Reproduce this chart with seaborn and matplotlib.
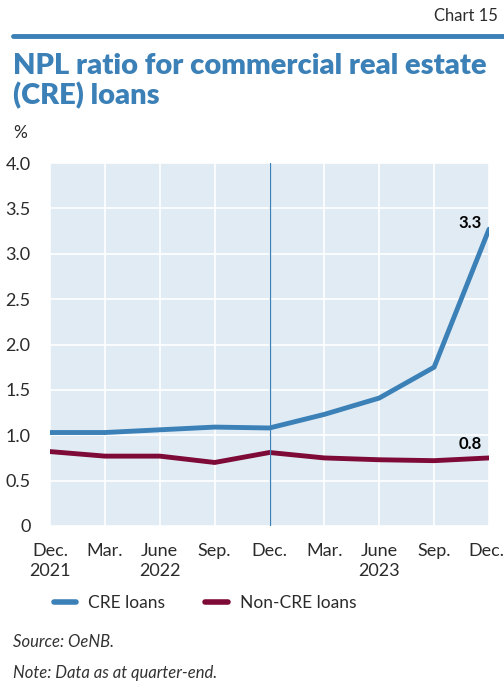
import matplotlib
matplotlib.use('Agg')
import matplotlib.pyplot as plt
import matplotlib.transforms as mtransforms
import seaborn as sns
import pandas as pd

# quarter-end labels
quarters = ['Dec.\n2021', 'Mar.', 'June\n2022', 'Sep.', 'Dec.', 'Mar.', 'June\n2023', 'Sep.', 'Dec.']
cre_loans = [1.03, 1.03, 1.06, 1.09, 1.08, 1.23, 1.41, 1.75, 3.27]
non_cre_loans = [0.82, 0.77, 0.77, 0.70, 0.81, 0.75, 0.73, 0.72, 0.75]
series_names = ['CRE loans', 'Non-CRE loans']
y_ticks = [0, 0.5, 1.0, 1.5, 2.0, 2.5, 3.0, 3.5, 4.0]
y_tick_labels = ['0', '0.5', '1.0', '1.5', '2.0', '2.5', '3.0', '3.5', '4.0']

blue = '#3b80b6'
maroon = '#7d0a37'
txt = '#2b2b2b'

df = pd.DataFrame({
    'pos': list(range(len(quarters))) * 2,
    'value': cre_loans + non_cre_loans,
    'series': [series_names[0]] * len(quarters) + [series_names[1]] * len(quarters),
})

sns.set_theme(style='darkgrid', rc={'axes.facecolor': '#e1ebf4', 'grid.color': 'white'})
plt.rcParams['font.family'] = ['Lato', 'DejaVu Sans']

fig = plt.figure(figsize=(5.04, 6.88), dpi=100)
ax = fig.add_axes([50 / 504, 1 - 526 / 688, 439 / 504, 363 / 688])

sns.lineplot(data=df, x='pos', y='value', hue='series', palette=[blue, maroon],
             linewidth=3.5, ax=ax, legend=False)

ax.axvline(4, color=blue, linewidth=0.9)

ax.set_xlim(0, len(quarters) - 1)
ax.set_ylim(0, 4.0)
ax.set_xticks(range(len(quarters)))
ax.set_xticklabels(quarters, fontsize=13, color=txt, linespacing=1.3)
ax.set_yticks(y_ticks)
ax.set_yticklabels(y_tick_labels, fontsize=13, color=txt)
ax.tick_params(axis='x', pad=12, length=0)
ax.tick_params(axis='y', pad=14, length=0)
ax.set_xlabel('')
ax.set_ylabel('')
ax.grid(True, color='white', linewidth=1.2)
for s in ax.spines.values():
    s.set_visible(False)

# nudge the last tick label so it stays inside the figure
last = ax.get_xticklabels()[-1]
last.set_transform(last.get_transform() + mtransforms.ScaledTranslation(-3 / 100, 0, fig.dpi_scale_trans))

ax.text(7.65, cre_loans[-1] + 0.07, f'{cre_loans[-1]:.1f}', ha='center', va='center',
        fontsize=12, fontweight='bold', color='black')
ax.text(7.65, non_cre_loans[-1] + 0.15, f'{non_cre_loans[-1]:.1f}', ha='center', va='center',
        fontsize=12, fontweight='bold', color='black')

# header
fig.text(498 / 504, 1 - 16 / 688, 'Chart 15', ha='right', va='center', fontsize=12, color=txt)
fig.add_artist(plt.Line2D([13 / 504, 1.0], [1 - 36 / 688, 1 - 36 / 688], color=blue, linewidth=3.5))
fig.text(13 / 504, 1 - 81 / 688, 'NPL ratio for commercial real estate\n(CRE) loans', ha='left', va='center',
         fontsize=21, fontweight='heavy', color=blue, linespacing=1.12)
fig.text(13 / 504, 1 - 133 / 688, '%', ha='left', va='center', fontsize=12.5, color=txt)

# legend
handles = [plt.Line2D([], [], color=blue, linewidth=4), plt.Line2D([], [], color=maroon, linewidth=4)]
leg = fig.legend(handles, series_names, loc='center left', bbox_to_anchor=(38 / 504, 1 - 603 / 688),
                 ncol=2, frameon=False, fontsize=12.5, handlelength=1.3, columnspacing=2.3,
                 handletextpad=0.7)
for t in leg.get_texts():
    t.set_color(txt)

fig.text(13 / 504, 1 - 642 / 688, 'Source: OeNB.', ha='left', va='center', fontsize=12,
         style='italic', color='#333333')
fig.text(13 / 504, 1 - 673 / 688, 'Note: Data as at quarter-end.', ha='left', va='center', fontsize=12,
         style='italic', color='#333333')

fig.savefig('out.png', dpi=100)
